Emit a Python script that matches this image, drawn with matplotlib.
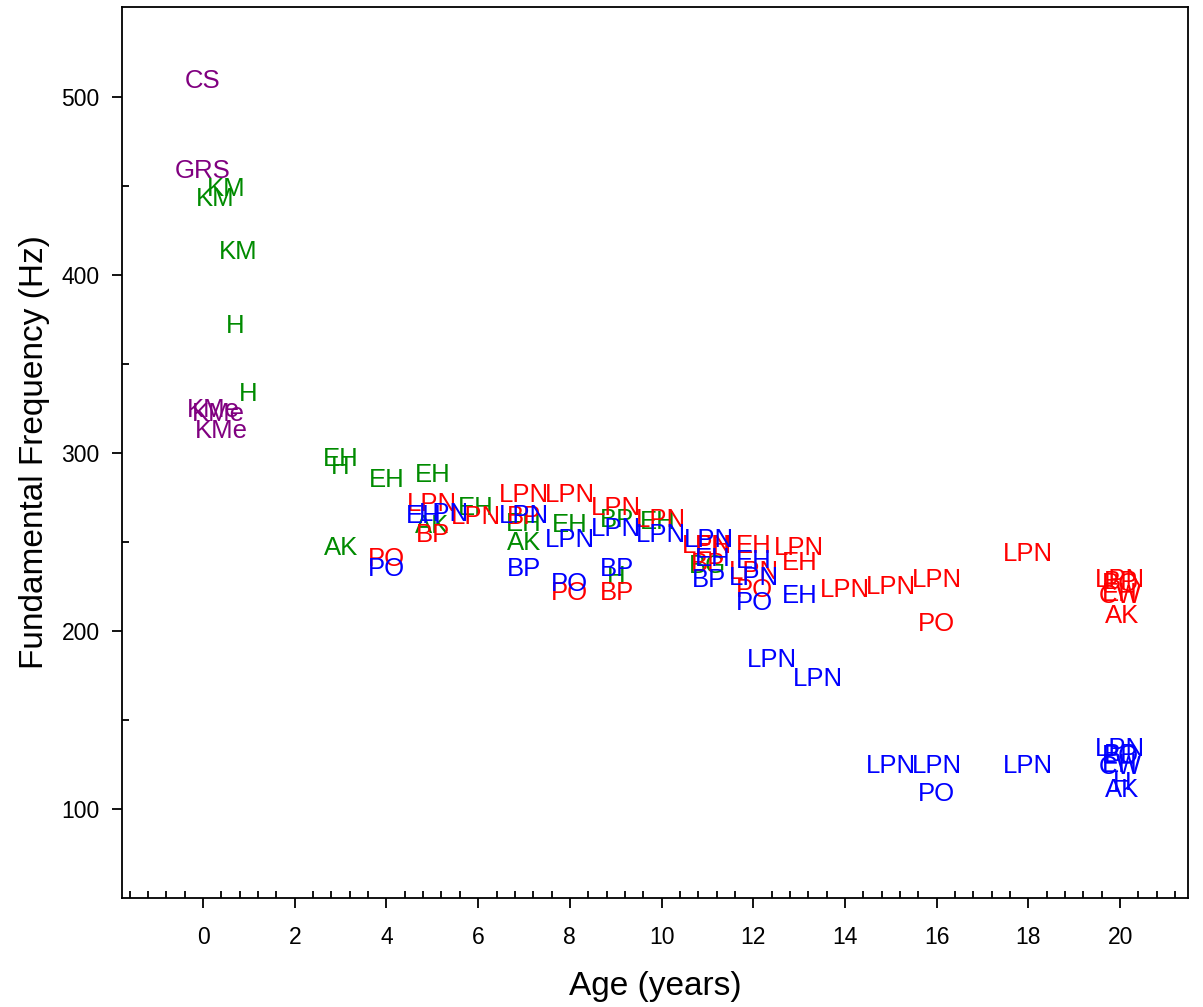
import numpy as np
import matplotlib
matplotlib.use("Agg")
import matplotlib.pyplot as plt
from matplotlib.ticker import MultipleLocator

plt.rcParams['font.family'] = ['Liberation Sans', 'DejaVu Sans']

# infants (purple)
purpleAge = [0.0, 0.0, 0.22, 0.33, 0.41]
purpleF0 = [510.7, 460.1, 325.8, 323.6, 314.0]
purpleLab = ["CS", "GRS", "KMe", "KMe", "KMe"]

# green series
greenAge = [0.50, 0.26, 0.76, 0.70, 0.98, 3.01, 2.99, 4.01, 5.02, 3.01,
            4.99, 5.95, 7.0, 7.0, 8.0, 9.03, 9.0, 9.92, 11.01]
greenF0 = [450.0, 444.4, 414.6, 373.0, 334.3, 297.8, 293.8, 286.0, 288.8, 248.3,
           260.5, 270.8, 261.8, 251.1, 261.2, 263.5, 231.5, 262.4, 238.2]
greenLab = ["KM", "KM", "KM", "H", "H", "EH", "H", "EH", "EH", "AK",
            "AK", "EH", "EH", "AK", "EH", "BP", "H", "EH", "BG"]

# red series
redAge = [4.01, 4.99, 5.02, 5.95, 7.0, 7.0, 8.0, 8.0, 9.0, 9.03,
          9.99, 10.99, 11.12, 11.01, 12.02, 12.02, 12.02, 13.0, 13.02, 14.0,
          15.0, 16.0, 16.0, 18.0, 20.0, 20.02, 20.0, 20.0, 20.0, 20.04]
redF0 = [241.6, 272.5, 255.1, 265.7, 278.1, 265.7, 222.5, 278.1, 270.8, 222.5,
         264.0, 249.4, 249.4, 239.3, 249.0, 234.5, 224.7, 248.0, 239.6, 224.7,
         226.4, 229.8, 205.6, 244.4, 230.0, 229.0, 228.0, 222.0, 221.0, 210.0]
redLab = ["PO", "LPN", "BP", "LPN", "LPN", "BP", "PO", "LPN", "LPN", "BP",
          "LPN", "LPN", "EH", "BP", "EH", "LPN", "PO", "LPN", "EH", "LPN",
          "LPN", "LPN", "PO", "LPN", "LPN", "BP", "PO", "EH", "CW", "AK"]

# blue series
blueAge = [4.01, 4.82, 5.26, 7.0, 7.0, 8.0, 8.0, 9.0, 9.03, 9.99,
           11.04, 11.12, 11.04, 12.02, 12.02, 12.02, 12.41, 13.02, 13.41, 15.0,
           16.0, 16.0, 18.0, 20.0, 20.02, 20.0, 20.0, 20.0, 20.04, 20.04]
blueF0 = [236.5, 266.3, 266.9, 266.3, 236.0, 252.8, 228.1, 259.0, 236.0, 255.6,
          252.8, 242.1, 229.8, 240.5, 231.0, 217.0, 185.4, 221.3, 174.2, 125.3,
          125.3, 110.1, 125.3, 135.0, 132.0, 131.0, 126.0, 125.0, 116.0, 112.0]
blueLab = ["PO", "EH", "LPN", "LPN", "BP", "LPN", "PO", "LPN", "BP", "LPN",
           "LPN", "EH", "BP", "EH", "LPN", "PO", "LPN", "EH", "LPN", "LPN",
           "LPN", "PO", "LPN", "LPN", "BP", "PO", "EH", "CW", "H", "AK"]

groups = [
    (greenAge, greenF0, greenLab, "#008B00"),
    (redAge, redF0, redLab, "#FF0000"),
    (blueAge, blueF0, blueLab, "#0000FF"),
    (purpleAge, purpleF0, purpleLab, "#800080"),
]

fig = plt.figure(figsize=(12.03, 10.07), dpi=100)
ax = fig.add_axes([122 / 1203, 109 / 1007, 1066 / 1203, 891 / 1007])

for ages, f0s, labs, col in groups:
    for a, f, l in zip(ages, f0s, labs):
        ax.text(a, f, l, color=col, fontsize=18.5, ha="center", va="center_baseline")

ax.set_xlim(-1.767, 21.48)
ax.set_ylim(50, 550.6)

ax.set_xticks(np.arange(0, 21, 2))
ax.xaxis.set_minor_locator(MultipleLocator(0.4))
ax.set_yticks([100, 200, 300, 400, 500])
ax.set_yticks([150, 250, 350, 450], minor=True)

ax.tick_params(which="major", direction="out", length=7, width=1.3, labelsize=16.5)
ax.tick_params(axis="x", which="major", pad=13)
ax.tick_params(axis="y", which="major", pad=9)
ax.tick_params(which="minor", direction="in", length=5, width=1.3)
for s in ax.spines.values():
    s.set_linewidth(1.3)

ax.set_xlabel("Age (years)", fontsize=24, labelpad=16)
ax.set_ylabel("Fundamental Frequency (Hz)", fontsize=24, labelpad=8)

fig.savefig("out.png", dpi=100)
